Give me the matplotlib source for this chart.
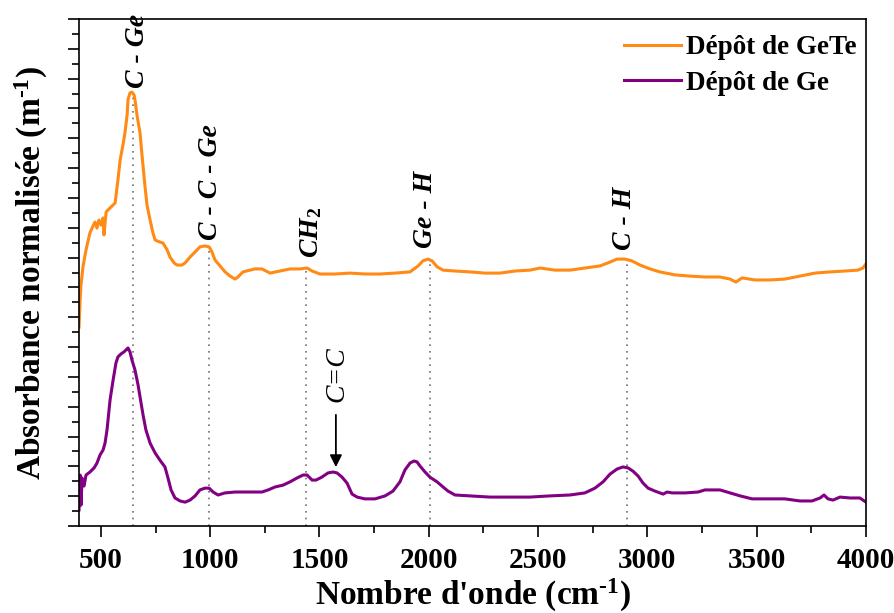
import numpy as np
import matplotlib
matplotlib.use("Agg")
import matplotlib.pyplot as plt

plt.rcParams['font.family'] = ['Liberation Serif', 'DejaVu Serif']
plt.rcParams['mathtext.fontset'] = 'custom'
plt.rcParams['mathtext.rm'] = 'Liberation Serif:bold'
plt.rcParams['mathtext.bf'] = 'Liberation Serif:bold'
plt.rcParams['mathtext.it'] = 'Liberation Serif:bold:italic'
plt.rcParams['mathtext.default'] = 'bf'

# wavenumber (cm-1) and normalised absorbance (arb. units)
wn_gete = [400, 405, 409, 418, 432, 450, 464, 473, 482, 491, 501, 510, 514, 524, 533, 551, 565,
           578, 588, 601, 610, 620, 624, 633, 642, 652, 656, 665, 679, 688, 702, 711, 725, 738,
           748, 770, 784, 803, 816, 835, 848, 871, 885, 908, 931, 953, 976, 995, 1008, 1022,
           1045, 1068, 1091, 1114, 1127, 1150, 1182, 1205, 1237, 1274, 1319, 1365, 1411, 1443,
           1466, 1502, 1571, 1640, 1708, 1777, 1845, 1914, 1951, 1973, 1996, 2015, 2038, 2065,
           2120, 2188, 2257, 2326, 2394, 2463, 2509, 2577, 2646, 2714, 2783, 2829, 2861, 2897,
           2929, 2966, 3012, 3057, 3126, 3195, 3263, 3332, 3378, 3405, 3433, 3492, 3561, 3629,
           3698, 3766, 3835, 3904, 3963, 3986, 4000]
abs_gete = [6.67, 7.58, 8.08, 8.69, 9.26, 9.83, 10.06, 10.19, 9.99, 10.26, 10.09, 10.33, 9.76,
            10.53, 10.60, 10.73, 10.83, 11.60, 12.27, 12.78, 13.18, 13.78, 14.29, 14.52, 14.55,
            14.45, 14.29, 13.78, 13.18, 12.44, 11.37, 10.76, 10.26, 9.83, 9.59, 9.52, 9.49, 9.26,
            9.02, 8.82, 8.75, 8.75, 8.82, 9.02, 9.19, 9.36, 9.39, 9.36, 9.19, 8.92, 8.72, 8.52,
            8.38, 8.28, 8.35, 8.52, 8.58, 8.62, 8.62, 8.48, 8.55, 8.62, 8.62, 8.65, 8.55, 8.45,
            8.45, 8.48, 8.45, 8.45, 8.48, 8.52, 8.72, 8.89, 8.95, 8.89, 8.69, 8.58, 8.55, 8.52,
            8.48, 8.48, 8.55, 8.58, 8.65, 8.58, 8.58, 8.65, 8.72, 8.85, 8.95, 8.95, 8.89, 8.75,
            8.62, 8.52, 8.42, 8.38, 8.35, 8.35, 8.28, 8.18, 8.32, 8.25, 8.25, 8.28, 8.38, 8.48,
            8.52, 8.55, 8.58, 8.65, 8.79]

wn_ge = [400, 405, 409, 414, 423, 432, 450, 469, 482, 496, 510, 519, 528, 542, 556, 569, 578,
         592, 606, 620, 624, 633, 642, 656, 670, 679, 693, 706, 725, 748, 770, 793, 807, 821,
         839, 862, 885, 908, 931, 953, 976, 995, 1013, 1036, 1068, 1114, 1182, 1237, 1265,
         1297, 1333, 1365, 1397, 1425, 1443, 1466, 1484, 1511, 1539, 1562, 1580, 1603, 1626,
         1649, 1672, 1708, 1754, 1800, 1836, 1868, 1891, 1914, 1932, 1946, 1960, 1983, 2005,
         2038, 2065, 2088, 2120, 2188, 2280, 2371, 2463, 2554, 2646, 2714, 2760, 2797, 2829,
         2861, 2888, 2911, 2934, 2957, 2980, 3003, 3035, 3072, 3090, 3113, 3173, 3232, 3263,
         3332, 3378, 3424, 3479, 3561, 3629, 3698, 3753, 3790, 3808, 3826, 3849, 3881, 3927,
         3972, 4000]
abs_ge = [0.54, 1.71, 0.70, 1.61, 1.34, 1.71, 1.81, 1.95, 2.11, 2.38, 2.55, 2.78, 3.22, 4.23,
          4.90, 5.47, 5.67, 5.77, 5.84, 5.94, 5.97, 5.84, 5.57, 5.23, 4.73, 4.33, 3.72, 3.22,
          2.78, 2.45, 2.21, 1.98, 1.61, 1.21, 0.94, 0.84, 0.80, 0.87, 1.01, 1.21, 1.27, 1.27,
          1.14, 1.04, 1.11, 1.14, 1.14, 1.14, 1.21, 1.31, 1.37, 1.48, 1.61, 1.71, 1.71, 1.54,
          1.54, 1.64, 1.78, 1.81, 1.78, 1.64, 1.44, 1.07, 0.97, 0.91, 0.91, 1.01, 1.17, 1.48,
          1.88, 2.11, 2.18, 2.15, 2.01, 1.81, 1.64, 1.48, 1.31, 1.17, 1.04, 1.01, 0.97, 0.97,
          0.97, 1.01, 1.04, 1.11, 1.27, 1.48, 1.74, 1.91, 1.98, 1.95, 1.84, 1.68, 1.44, 1.27,
          1.17, 1.07, 1.14, 1.11, 1.11, 1.14, 1.21, 1.21, 1.11, 1.01, 0.91, 0.91, 0.91, 0.84,
          0.84, 0.94, 1.04, 0.91, 0.87, 0.97, 0.94, 0.94, 0.80]

# band assignments: position, label, label x, label bottom y
band_pos = [645, 995, 1440, 2005, 2905]
band_labels = ['C - Ge', 'C - C - Ge', 'CH$_2$', 'Ge - H', 'C - H']
label_x = [668, 1000, 1462, 1987, 2897]
label_y = [14.69, 9.59, 8.99, 9.32, 9.26]

orange = '#FF8A14'
purple = '#820082'

fig = plt.figure(figsize=(8.95, 6.13), dpi=100)
ax = fig.add_axes([0.0883, 0.1419, 0.8793, 0.8271])

ax.plot(wn_gete, abs_gete, color=orange, lw=2.2, label='Dépôt de GeTe')
ax.plot(wn_ge, abs_ge, color=purple, lw=2.2, label='Dépôt de Ge')

for p, lab, lx, ly in zip(band_pos, band_labels, label_x, label_y):
    top = np.interp(p, wn_gete, abs_gete)
    ax.vlines(p, 0, top, colors='#707070', linestyles=(0, (1, 3)), lw=1.2, zorder=1)
    ax.text(lx, ly, lab, rotation=90, ha='center', va='bottom', fontsize=20,
            fontstyle='italic', fontweight='bold', clip_on=False)

ax.annotate('', xy=(1575, 1.88), xytext=(1575, 3.82),
            arrowprops=dict(arrowstyle='-|>', color='black', lw=1.3, mutation_scale=18))
ax.text(1582, 4.15, 'C=C', rotation=90, ha='center', va='bottom', fontsize=20,
        fontstyle='italic')

ax.set_xlim(400, 4000)
ax.set_ylim(0, 17)
ax.set_xticks([500, 1000, 1500, 2000, 2500, 3000, 3500, 4000])
ax.set_xticks(np.arange(750, 4000, 500), minor=True)
ax.set_yticks(np.arange(0, 17.1, 1))
ax.set_yticks(np.arange(0.5, 17, 1), minor=True)
ax.set_yticklabels([])
ax.tick_params(axis='both', which='major', direction='out', length=8, width=1.2,
               labelsize=21, pad=7, top=False, right=False)
ax.tick_params(axis='both', which='minor', direction='out', length=5, width=1.2,
               top=False, right=False)
for t in ax.get_xticklabels():
    t.set_fontweight('bold')
for s in ax.spines.values():
    s.set_linewidth(1.2)

ax.set_xlabel("Nombre d'onde (cm$^{\\text{-}1}$)", fontsize=24, fontweight='bold', labelpad=2)
ax.set_ylabel('Absorbance normalisée (m$^{\\text{-}1}$)', fontsize=24, fontweight='bold',
              labelpad=6)

leg = ax.legend(loc='upper right', bbox_to_anchor=(1.009, 1.0), frameon=False,
                handlelength=2.1, handletextpad=0.2, borderaxespad=0.2, labelspacing=0.38,
                prop={'weight': 'bold', 'size': 19.5})

fig.savefig('out.png', dpi=100)
